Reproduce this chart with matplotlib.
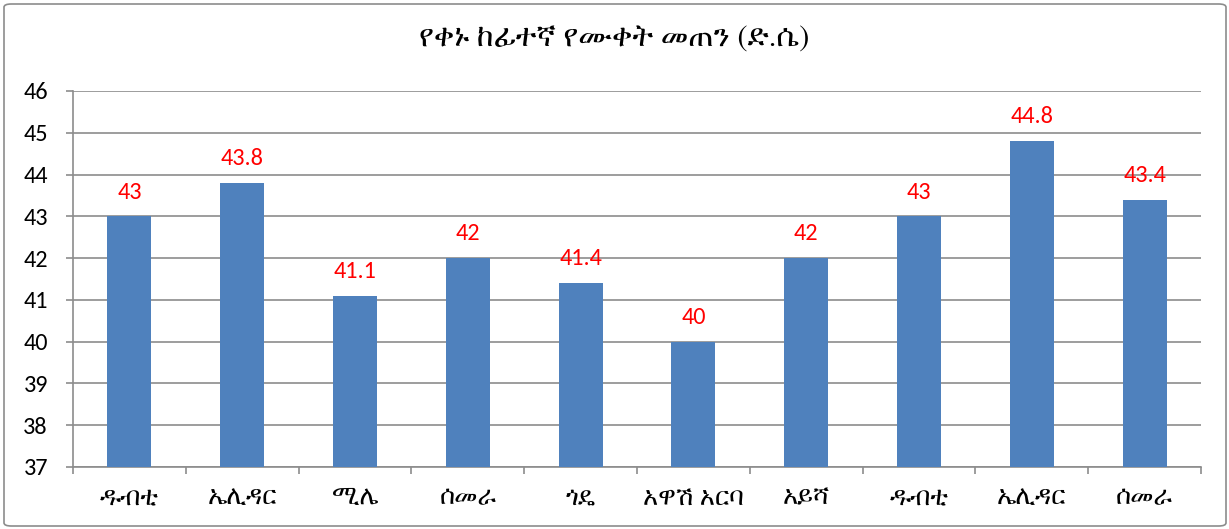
import matplotlib
matplotlib.use("Agg")
import matplotlib.pyplot as plt
from matplotlib.patches import FancyBboxPatch

# data
stations = ["ዱብቲ", "ኤሊዳር", "ሚሌ", "ሰመራ", "ጎዴ", "አዋሽ አርባ", "አይሻ", "ዱብቲ", "ኤሊዳር", "ሰመራ"]
max_temp = [43, 43.8, 41.1, 42, 41.4, 40, 42, 43, 44.8, 43.4]
yticks = [37, 38, 39, 40, 41, 42, 43, 44, 45, 46]
title = "የቀኑ ከፊተኛ የሙቀት መጠን (ድ.ሴ)"

eth = ["FreeSerif", "Noto Serif Ethiopic", "DejaVu Sans"]
num = ["Carlito", "Lato", "DejaVu Sans"]
plt.rcParams["font.family"] = num

fig = plt.figure(figsize=(12.29, 5.29), dpi=100)
ax = fig.add_axes([73 / 1229, 1 - 467 / 529, 1128 / 1229, (467 - 91) / 529])

# rounded outer frame
frame = FancyBboxPatch((4 / 1229, 3 / 529), 1222 / 1229, 522 / 529,
                       boxstyle="round,pad=0,rounding_size=0.006",
                       transform=fig.transFigure, fill=False,
                       edgecolor="#8c8c8c", linewidth=1.2)
fig.patches.append(frame)

x = list(range(len(stations)))
ax.bar(x, [v - 37 for v in max_temp], bottom=37, width=0.39,
       color="#4f81bd", zorder=3)
for xi, v in zip(x, max_temp):
    ax.text(xi, v + 0.33, f"{v:g}", ha="center", va="bottom",
            color="#ff0000", fontsize=17.5, zorder=4)

ax.set_ylim(37, 46)
ax.set_xlim(-0.5, len(stations) - 0.5)
ax.set_yticks(yticks)
ax.yaxis.grid(True, color="#8c8c8c", linewidth=1.2, zorder=0)
ax.tick_params(axis="y", length=5, color="#8c8c8c", width=1.2,
               labelsize=17.5, pad=13)

# category labels centred, tick marks between categories
ax.set_xticks(x)
ax.set_xticklabels(stations, family=eth, fontsize=18.5)
ax.tick_params(axis="x", length=0, pad=14)
ax.set_xticks([i - 0.5 for i in range(len(stations) + 1)], minor=True)
ax.tick_params(axis="x", which="minor", length=5, color="#8c8c8c", width=1.2)

for s in ["top", "right"]:
    ax.spines[s].set_visible(False)
for s in ["left", "bottom"]:
    ax.spines[s].set_color("#8c8c8c")
    ax.spines[s].set_linewidth(1.2)

fig.text(614 / 1229, 1 - 40 / 529, title, family=eth, fontsize=22,
         ha="center", va="center")

fig.savefig("out.png", dpi=100)
